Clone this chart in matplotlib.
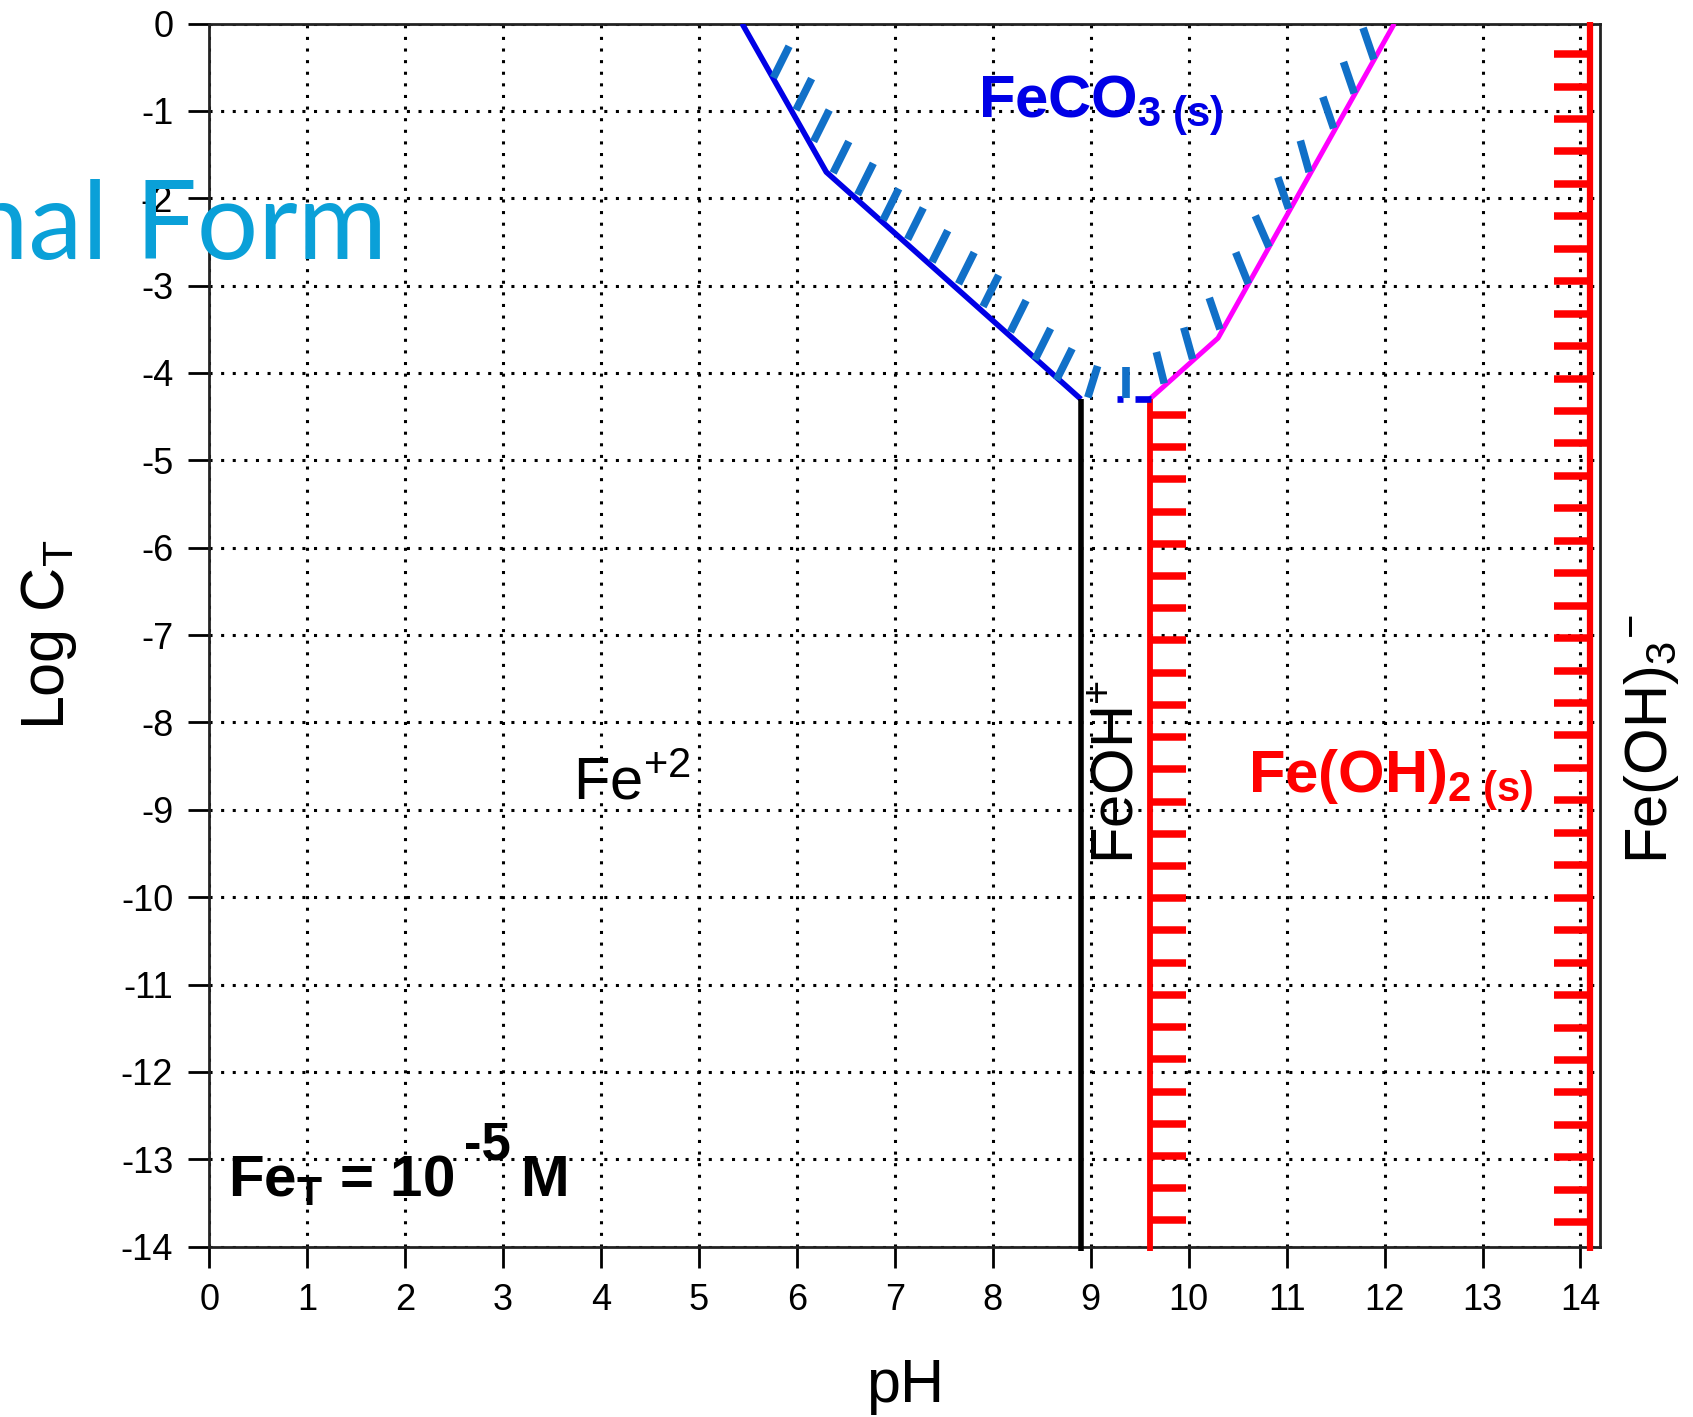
import numpy as np
import matplotlib.pyplot as plt

plt.rcParams['font.family'] = ['Liberation Sans', 'DejaVu Sans']
plt.rcParams['mathtext.fontset'] = 'custom'
plt.rcParams['mathtext.rm'] = 'Liberation Sans'
plt.rcParams['mathtext.it'] = 'Liberation Sans:italic'
plt.rcParams['mathtext.bf'] = 'Liberation Sans:bold'
plt.rcParams['axes.unicode_minus'] = False

# FeCO3(s) boundary, left branch (Fe+2 side) and right branch (FeOH+ / Fe(OH)2 side)
feco3_left_ph = [5.44, 6.30, 8.90]
feco3_left_logc = [0.0, -1.70, -4.30]
feco3_right_ph = [9.60, 10.30, 12.10]
feco3_right_logc = [-4.30, -3.60, 0.0]

# vertical boundaries
fe2_feoh_ph = 8.90
feoh2_ph = 9.60
feoh3_ph = 14.10
corner_logc = -4.30

# short dashes of the FeCO3 boundary between the two branches
bridge_ph = [(9.27, 9.33), (9.45, 9.62)]

# shading ticks on the FeCO3 side of the boundary
tick_left_ph = [5.76, 5.99, 6.17, 6.37, 6.62, 6.88, 7.13, 7.38, 7.65, 7.90, 8.18, 8.43, 8.65, 8.97, 9.36]
tick_left_logc = [-0.62, -0.99, -1.35, -1.71, -1.96, -2.25, -2.47, -2.73, -2.98, -3.24, -3.53, -3.85, -4.08, -4.28, -4.29]
tick_left_dx = [0.16] * 13 + [0.10, 0.0]
tick_right_ph = [9.75, 10.04, 10.32, 10.61, 10.82, 11.02, 11.23, 11.48, 11.69, 11.89]
tick_right_logc = [-4.12, -3.84, -3.50, -2.98, -2.56, -2.12, -1.70, -1.20, -0.80, -0.41]
tick_right_dx = [-0.08, -0.09, -0.11, -0.13, -0.14, -0.11, -0.09, -0.11, -0.11, -0.11]

# hatching along the Fe(OH)2(s) limits
hatch_feoh2_top, hatch_feoh2_bottom, hatch_feoh2_n = -4.48, -13.70, 26
hatch_feoh3_top, hatch_feoh3_bottom, hatch_feoh3_n = -0.35, -13.72, 37

BLUE = '#0000e6'
TICKBLUE = '#1170c8'
RED = '#ff0000'
MAGENTA = '#ff00ff'

fig = plt.figure(figsize=(16.93, 14.17), dpi=100)
ax = fig.add_axes([0.1236, 0.1202, 0.8215, 0.8632])

ax.set_xlim(0, 14.2)
ax.set_ylim(-14, 0)
ax.set_xticks(range(0, 15))
ax.set_yticks(range(-14, 1))
ax.grid(True, color='black', linestyle=(0, (1, 2.8)), linewidth=2.2)
ax.set_axisbelow(True)
ax.tick_params(labelsize=26, length=15, width=2, pad=11)
for s in ax.spines.values():
    s.set_linewidth(2)
    s.set_color('#222222')

# boundaries
ax.plot(feco3_left_ph, feco3_left_logc, color=BLUE, lw=4.0, solid_capstyle='butt', zorder=4)
ax.plot(feco3_right_ph, feco3_right_logc, color=MAGENTA, lw=3.6, solid_capstyle='butt', zorder=4)
ax.plot([fe2_feoh_ph, fe2_feoh_ph], [corner_logc, -14.05], color='black', lw=4.0,
        solid_capstyle='butt', clip_on=False, zorder=4)
ax.plot([feoh2_ph, feoh2_ph], [corner_logc, -14.05], color=RED, lw=4.2,
        solid_capstyle='butt', clip_on=False, zorder=4)
ax.plot([feoh3_ph, feoh3_ph], [0.02, -14.05], color=RED, lw=4.5,
        solid_capstyle='butt', clip_on=False, zorder=4)
for a, b in bridge_ph:
    ax.plot([a, b], [corner_logc, corner_logc], color=BLUE, lw=4.8, solid_capstyle='butt', zorder=4)

# FeCO3 shading ticks
for x, y, dx in zip(tick_left_ph + tick_right_ph, tick_left_logc + tick_right_logc,
                    tick_left_dx + tick_right_dx):
    ax.plot([x, x + dx], [y, y + 0.36], color=TICKBLUE, lw=5.5, solid_capstyle='butt', zorder=5)

# Fe(OH)2 hatching
for y in np.linspace(hatch_feoh2_top, hatch_feoh2_bottom, hatch_feoh2_n):
    ax.plot([feoh2_ph, feoh2_ph + 0.37], [y, y], color=RED, lw=5.4, solid_capstyle='butt', zorder=4)
for y in np.linspace(hatch_feoh3_top, hatch_feoh3_bottom, hatch_feoh3_n):
    ax.plot([feoh3_ph - 0.37, feoh3_ph], [y, y], color=RED, lw=5.4, solid_capstyle='butt', zorder=4)

# species labels
ax.text(7.85, -1.08, r'$\mathbf{FeCO}_{\mathbf{3\ (s)}}$', color=BLUE, fontsize=43,
        ha='left', va='baseline', zorder=6)
ax.text(10.61, -8.80, r'$\mathbf{Fe(OH)}_{\mathbf{2\ (s)}}$', color=RED, fontsize=43,
        ha='left', va='baseline', zorder=6)
ax.text(3.71, -8.88, r'Fe$^{\mathrm{+2}}$', color='black', fontsize=43,
        ha='left', va='baseline', zorder=6)
ax.text(9.28, -9.62, r'FeOH$^{\mathrm{+}}$', color='black', fontsize=43, rotation=90,
        ha='center', va='bottom', zorder=6)
ax.text(14.73, -9.62, r'Fe(OH)$_{\mathrm{3}}$$^{\mathrm{-}}$', color='black', fontsize=43,
        rotation=90, ha='center', va='bottom', clip_on=False, zorder=6)

# total iron note: base, raised exponent, unit
ax.text(0.19, -13.42, r'Fe$_{\mathbf{T}}$ = 10', color='black', fontsize=42,
        fontweight='bold', ha='left', va='baseline', zorder=6)
ax.text(2.60, -13.00, '-5', color='black', fontsize=38, fontweight='bold',
        ha='left', va='baseline', zorder=6)
ax.text(3.17, -13.42, 'M', color='black', fontsize=42, fontweight='bold',
        ha='left', va='baseline', zorder=6)

ax.set_xlabel('pH', fontsize=44, labelpad=29)
ax.set_ylabel(r'Log C$_{\mathrm{T}}$', fontsize=44, labelpad=30)

fig.text(387 / 1693, 1 - 259 / 1417, 'nal Form', color='#0aa0d8', fontsize=78,
         family='Lato', ha='right', va='baseline', zorder=10)

fig.savefig('out.png', dpi=100)
